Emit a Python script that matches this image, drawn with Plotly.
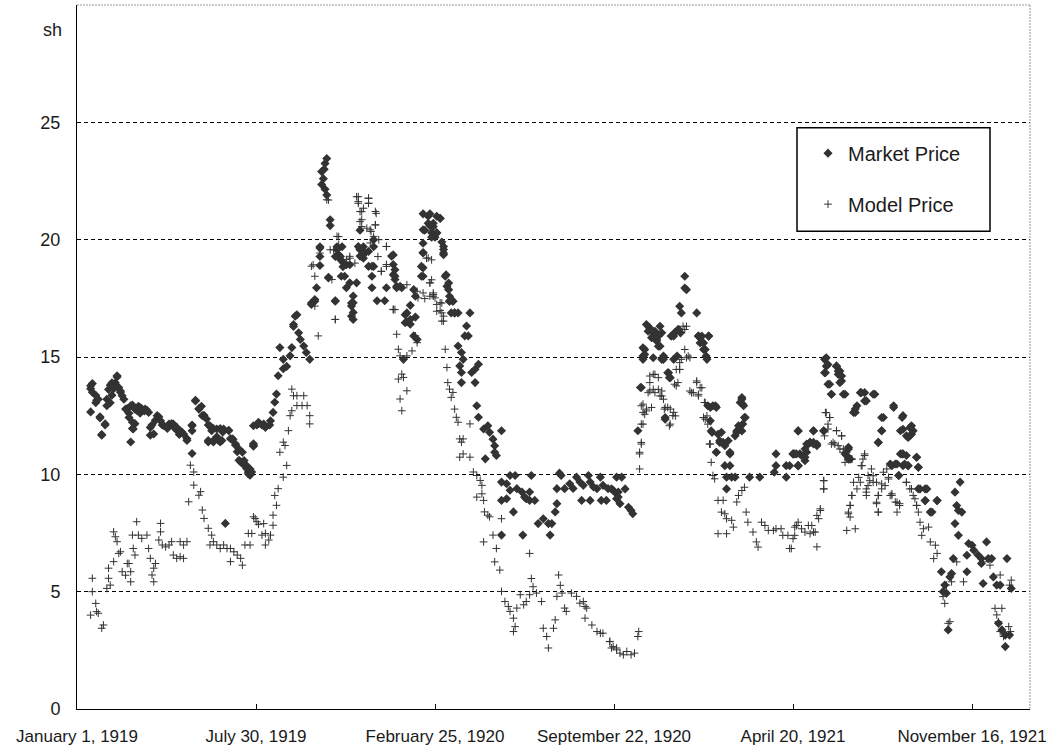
import pandas as pd
import plotly.graph_objects as go

# ---- data (days since 1 Jan 1919, price in shillings) ----
market_day = [16, 16, 18, 22, 23, 27, 29, 33, 35, 39, 41, 43, 45, 47, 49, 51, 55, 59, 61, 63, 65, 65, 68, 70, 72, 74, 76, 79, 82, 86, 88, 92, 96, 100, 106, 111, 114, 117, 120, 123, 129, 135, 135, 139, 143, 146, 149, 154, 154, 157, 160, 160, 164, 168, 168, 171, 174, 178, 180, 183, 186, 188, 190, 192, 196, 199, 201, 203, 207, 213, 219,
              16, 18, 22, 25, 27, 33, 29, 37, 41, 45, 47, 51, 53, 39, 35, 57, 63, 68, 74, 80, 84, 61, 65, 66, 94, 98, 102, 108, 113, 117, 121, 125, 129, 86, 90,
              135, 135, 139, 143, 147, 152, 156, 158, 164, 172, 178, 182, 186, 190, 194, 196, 199, 203, 201, 207, 213, 219, 227, 154, 160, 166, 170, 207,
              205, 207, 211, 217, 221, 226, 230, 232, 234, 236, 242, 246, 242, 250, 238, 252, 254, 258, 260, 262, 266, 269, 273, 275, 279, 281, 285, 285, 290, 293, 291, 287, 289, 287, 291, 293, 295, 297, 297, 303, 305, 307, 309, 311, 312, 314, 310, 316, 320, 324, 322, 324, 324, 328, 332, 332, 332, 336, 338, 342, 346, 346, 346, 348, 348, 352, 361, 363, 369, 371, 371, 373, 375, 381, 383, 385, 387, 391, 391, 395, 397, 399, 406, 408, 406, 406, 406, 404, 412, 414, 416, 420, 422,
              285, 285, 305, 309, 313, 316, 320, 303, 332, 334, 336, 330, 342, 348, 371, 373, 373, 375, 379, 395, 397, 406, 412, 418, 426, 422, 406, 404, 406, 430, 430, 432, 434, 437, 441, 443, 387, 385, 391, 322, 322, 324, 303, 279, 275, 295, 256, 254,
              414, 418, 422, 426, 416, 428, 430, 430, 433, 436, 436, 437, 437, 441, 439, 443, 447, 461, 457, 459, 455, 447, 451, 453, 449, 451, 463, 467, 471, 467, 451, 469, 471, 477, 482, 484, 488, 490, 490, 492, 498, 479, 498, 504, 508, 514, 498, 504, 508, 516, 522, 525, 531, 533, 527, 531, 537, 512, 498, 523, 541, 547, 553, 557, 555, 561, 563, 566, 568, 563, 572, 578, 582, 586, 590, 594, 600, 602, 606, 610, 614, 617, 623, 629, 635, 592, 602, 615, 621, 633,
              627, 631, 635, 637, 643, 647, 650, 652, 633, 639, 658, 662, 664, 666, 668, 674, 676, 680, 682, 684, 686, 688, 693, 695, 690, 697, 701, 705, 707, 709, 713, 715, 713, 727, 729, 731, 735, 738, 733, 741, 740, 746, 750, 744, 752, 754, 760, 766, 750, 760, 766, 762, 768, 772, 762, 774, 776, 780, 781, 783, 781, 780, 789, 801, 820, 820, 818, 832, 832, 842, 846, 846,
              672, 670, 678, 682, 674, 680, 684, 664, 666, 664, 676, 686, 688, 700, 704, 700, 708, 706, 729, 731, 735, 737, 739, 741, 694, 696, 661, 690, 743, 749, 780, 782, 778, 784, 743, 745, 756, 754, 758, 764, 772, 774, 750, 766,
              836, 840, 846, 848, 852, 856, 854, 858, 860, 864, 868, 864, 876, 879, 881, 878, 891, 893, 897, 895, 881, 885, 901, 905, 901, 905, 919, 924, 926, 936, 913, 911, 946, 944, 940, 958, 969, 969, 973, 977, 979, 981, 966, 969, 973, 956, 960, 964, 969, 975, 985, 987, 989, 995, 995, 1009, 1001, 1036, 1030, 1032, 1034, 1038, 1030, 1034, 1046, 1050, 1052, 1057, 1061, 1067, 1044, 1061, 1028, 1044, 1069, 1073, 1091, 1014, 1024, 1026, 1018, 1016, 1020, 1022, 1063, 1075, 1079, 1083, 1096, 1081, 1085, 1089, 1094, 1089,
              846, 864, 876, 856, 860, 864, 868, 854, 840, 844, 850, 854, 846, 877, 879, 891, 895, 893, 897, 877, 883, 885, 899, 905, 903, 907, 920, 924, 915, 913, 934, 944, 944, 940, 958, 968, 966, 977, 979, 975, 954, 962, 968, 971, 975, 985, 987, 964, 987, 997, 995, 1009, 1003]
market_price = [13.65, 12.66, 13.87, 13.37, 13.16, 12.45, 11.67, 12.10, 13.20, 13.80, 13.37, 13.65, 13.90, 14.15, 13.70, 13.50, 13.20, 12.80, 12.60, 11.38, 12.95, 11.95, 12.16, 12.73, 12.90, 12.60, 12.80, 12.70, 12.73, 11.67, 12.10, 12.30, 12.45, 12.10, 11.95, 12.16, 12.00, 11.88, 11.70, 11.80, 11.52, 12.10, 10.89, 13.16, 12.80, 12.90, 12.52, 12.10, 11.38, 12.00, 11.95, 11.38, 11.60, 11.38, 11.95, 11.80, 7.91, 11.88, 11.52, 11.50, 11.24, 10.96, 10.60, 10.53, 10.39, 10.25, 10.10, 9.96, 11.24, 12.16, 12.10,
                13.77, 13.50, 13.05, 13.20, 12.40, 12.15, 11.70, 13.62, 13.90, 13.75, 14.20, 13.55, 13.35, 13.05, 12.92, 12.78, 12.92, 12.78, 12.85, 12.78, 12.64, 12.42, 12.22, 11.93, 12.50, 12.28, 12.07, 12.14, 12.14, 12.00, 11.86, 11.72, 11.44, 12.00, 11.72,
                12.07, 11.86, 13.13, 12.78, 12.50, 12.36, 12.07, 11.86, 11.93, 11.93, 11.86, 11.50, 11.29, 11.08, 10.94, 10.59, 10.37, 10.23, 10.02, 12.07, 12.22, 12.14, 12.28, 11.44, 11.44, 11.44, 11.44, 11.30,
                10.10, 11.20, 12.10, 12.10, 12.00, 12.10, 12.64, 13.07, 13.42, 14.20, 14.50, 14.60, 14.90, 15.05, 15.40, 15.40, 16.30, 16.80, 16.03, 15.75, 15.47, 15.19, 14.90, 17.30, 17.45, 17.95, 18.90, 19.70, 23.00, 23.46, 23.25, 22.90, 22.60, 22.35, 22.15, 21.90, 18.40, 20.85, 20.60, 17.40, 19.70, 19.36, 19.15, 19.70, 18.85, 18.44, 18.44, 17.95, 18.16, 17.60, 17.30, 16.90, 16.60, 18.16, 19.30, 19.60, 20.40, 19.70, 19.43, 19.50, 18.87, 18.44, 17.95, 19.70, 20.00, 17.40, 17.40, 17.95, 19.30, 18.94, 18.51, 18.30, 17.95, 17.95, 14.90, 16.80, 16.50, 17.20, 16.40, 15.90, 16.70, 15.75, 21.10, 20.40, 19.85, 19.45, 18.80, 18.44, 20.70, 20.60, 20.30, 20.10, 21.00,
                19.64, 19.28, 19.57, 19.28, 19.00, 18.93, 18.93, 19.28, 19.57, 19.28, 19.21, 19.71, 18.86, 18.86, 19.35, 18.72, 18.44, 18.01, 18.01, 17.87, 17.59, 20.42, 21.00, 20.56, 20.91, 20.28, 19.43, 18.86, 18.44, 19.71, 19.43, 18.44, 18.01, 17.38, 17.38, 16.88, 16.88, 16.46, 16.60, 17.17, 16.74, 17.31, 17.38, 17.38, 17.24, 18.37, 16.74, 16.38,
                21.10, 20.70, 20.30, 20.90, 20.10, 19.90, 19.58, 19.36, 18.50, 18.15, 17.87, 17.59, 17.38, 17.38, 16.88, 16.88, 16.88, 16.88, 16.32, 15.90, 15.90, 15.47, 15.19, 14.90, 14.62, 14.34, 14.34, 14.48, 14.69, 13.91, 13.91, 12.92, 12.43, 11.93, 12.07, 11.79, 11.50, 11.22, 10.94, 10.80, 11.86, 10.66, 9.67, 9.60, 9.95, 9.95, 8.89, 8.96, 9.32, 9.39, 9.25, 9.03, 9.25, 9.95, 8.96, 8.89, 8.89, 8.40, 7.41, 7.41, 7.90, 8.11, 7.90, 7.90, 7.41, 8.40, 8.75, 10.05, 9.95, 9.39, 9.39, 9.60, 9.40, 9.88, 9.67, 9.53, 9.95, 9.67, 9.46, 9.39, 9.88, 9.53, 9.39, 9.32, 9.25, 8.89, 8.89, 8.89, 8.89, 8.96,
                9.38, 9.24, 9.03, 8.75, 9.38, 8.60, 8.46, 8.32, 9.88, 9.88, 11.86, 13.70, 15.04, 15.32, 16.38, 16.10, 15.89, 15.75, 15.46, 16.31, 16.03, 15.04, 14.33, 14.12, 12.42, 15.89, 16.03, 16.17, 17.16, 16.88, 17.94, 17.87, 18.44, 16.88, 15.89, 15.60, 15.32, 15.04, 15.89, 15.89, 12.92, 12.92, 12.85, 11.85, 11.71, 11.36, 11.22, 10.87, 10.94, 10.37, 10.37, 9.88, 9.88, 9.88, 9.38, 11.85, 12.07, 13.20, 12.99, 12.42, 12.14, 11.85, 9.88, 9.88, 10.87, 10.37, 10.09, 9.88, 10.37, 10.87, 10.37, 11.85,
                16.24, 16.10, 16.10, 15.89, 15.82, 15.68, 15.46, 15.39, 15.11, 14.90, 14.97, 14.90, 14.90, 14.90, 15.04, 15.89, 16.03, 16.17, 15.89, 15.82, 15.60, 15.32, 14.90, 15.89, 14.33, 14.12, 13.70, 12.35, 12.85, 12.92, 13.27, 12.92, 13.06, 12.42, 12.28, 11.79, 11.79, 11.43, 11.36, 11.43, 11.64, 11.79, 10.94, 10.94,
                10.37, 10.87, 10.37, 10.87, 10.80, 10.94, 10.58, 11.29, 11.36, 11.36, 11.29, 11.86, 11.86, 14.97, 14.68, 14.33, 14.61, 14.40, 14.19, 13.91, 13.84, 13.41, 13.41, 11.15, 10.87, 10.65, 13.48, 13.48, 13.13, 13.41, 12.78, 12.64, 12.42, 11.86, 11.36, 12.92, 12.50, 11.92, 11.64, 11.64, 12.07, 11.86, 10.87, 10.87, 10.80, 10.37, 10.44, 9.95, 10.37, 10.37, 10.73, 10.30, 9.38, 9.38, 8.88, 8.88, 8.39, 9.67, 9.24, 8.67, 8.46, 8.39, 7.90, 7.40, 7.05, 6.98, 6.77, 6.56, 6.41, 7.12, 6.55, 6.20, 6.41, 5.85, 6.41, 6.41, 6.41, 5.85, 5.63, 5.77, 5.28, 5.00, 4.93, 3.37, 5.35, 5.63, 5.28, 5.28, 5.14, 3.65, 3.37, 3.15, 3.15, 2.66,
                11.85, 11.85, 11.85, 11.29, 11.36, 11.29, 11.22, 11.08, 10.87, 10.87, 10.80, 10.73, 10.37, 14.90, 14.61, 14.61, 14.40, 14.26, 13.98, 14.33, 13.84, 13.41, 13.41, 11.08, 10.80, 10.65, 13.48, 13.13, 12.92, 12.64, 13.41, 12.42, 11.86, 11.36, 12.85, 12.42, 11.86, 11.99, 11.71, 11.57, 10.44, 10.44, 10.87, 10.44, 10.37, 10.73, 10.30, 9.95, 9.38, 9.38, 8.88, 8.88, 8.39]

model_day = [16, 18, 18, 22, 23, 25, 29, 31, 35, 37, 37, 39, 43, 43, 45, 47, 49, 51, 53, 57, 59, 61, 63, 63, 65, 66, 68, 70, 72, 76, 82, 84, 86, 88, 90, 90, 92, 96, 98, 98, 100, 104, 108, 111, 113, 117, 121, 121, 125, 125, 129, 131, 133, 137, 137, 143, 145, 147, 149, 154, 156, 158, 160, 164, 168, 172, 176, 180, 180, 184, 188, 192, 194, 197, 201, 203, 207, 211, 217, 221,
             205, 209, 213, 219, 221, 225, 227, 230, 230, 234, 232, 236, 238, 242, 242, 244, 246, 248, 250, 252, 252, 254, 258, 266, 258, 264, 270, 273, 273, 275, 279, 279, 283, 285, 293, 299, 301, 303, 305, 307, 316, 320, 328, 330, 332, 334, 336, 340, 342, 342, 344, 345, 348, 350, 350, 354, 357, 363, 363, 371, 375, 377, 379, 377, 381, 383, 387, 387, 379, 381, 393, 397, 399, 400, 406, 408, 412, 414, 418, 422,
             295, 330, 342, 342, 330, 334, 332, 334, 344, 351, 350, 307, 297, 277, 320, 326, 353, 363, 357, 363, 387, 399, 410, 416, 420, 426, 418, 414, 430, 428, 371, 373, 303,
             414, 416, 418, 422, 426, 428, 428, 430, 432, 434, 435, 437, 439, 441, 443, 445, 447, 449, 451, 453, 449, 453, 461, 461, 465, 469, 473, 475, 469, 475, 477, 478, 482, 484, 498, 477, 488, 492, 490, 496, 498, 502, 506, 508, 512, 514, 512, 516, 520, 524, 527, 531, 531, 533, 535, 539, 545, 547, 551, 553, 559, 561, 565, 563, 567, 569, 572, 574, 580, 586, 590, 594, 598, 596, 596, 604, 610, 614, 617, 625, 627, 633,
             625, 629, 633, 637, 641, 645, 650, 654, 658, 659, 660, 660, 662, 664, 666, 662, 668, 672, 676, 682, 686, 689, 670, 678, 684, 688, 695, 699, 693, 701, 703, 707, 709, 713, 715, 719, 721, 727, 729, 733, 736, 735, 740, 742, 744, 746, 748, 752, 758, 756, 760, 762, 768, 770, 752, 762, 774, 776, 780, 783, 785, 787, 793, 797, 799, 803, 807, 811, 817, 820, 826, 828, 834, 838, 842, 844,
             672, 678, 672, 676, 682, 686, 664, 668, 664, 674, 690, 696, 700, 702, 696, 662, 662, 660, 705, 703, 707, 707, 715, 717, 713, 711, 719, 723, 727, 731, 729, 737, 739, 737, 735, 743,
             836, 840, 842, 846, 850, 854, 860, 864, 858, 862, 866, 868, 872, 870, 876, 876, 879, 883, 881, 877, 885, 889, 891, 897, 895, 899, 901, 909, 911, 915, 920, 924, 928, 932, 905, 907, 909, 903, 913, 907, 926, 928, 940, 938, 940, 934, 944, 946, 952, 954, 956, 960, 962, 965, 973, 979, 983, 985, 987, 989, 993, 991, 999, 1001, 1007, 1005, 1009, 1016, 1018, 1020, 1024, 1022, 1026, 1032, 1040, 1063, 1071, 1083, 1096, 1094, 1077, 1085, 1079, 1081, 1093, 1083, 1087, 1095,
             878, 883, 881, 891, 897, 887, 893, 899, 903, 909, 924, 922, 921, 917, 919, 909, 926, 926, 930, 934, 938, 940, 944, 948, 952, 950, 938, 940, 956, 962, 965, 973, 977, 981, 985, 876, 876, 907, 905, 872, 868]
model_price = [4.00, 5.57, 5.00, 4.50, 4.15, 4.08, 3.44, 3.58, 5.14, 5.57, 6.00, 5.28, 7.55, 6.28, 7.34, 7.13, 6.63, 6.70, 5.85, 5.70, 6.20, 6.20, 5.85, 5.42, 7.41, 6.84, 6.56, 7.98, 7.41, 7.27, 7.41, 6.84, 6.42, 5.71, 6.00, 5.42, 6.20, 7.20, 7.91, 7.55, 6.99, 6.91, 6.99, 7.13, 6.56, 6.42, 6.49, 7.13, 6.99, 6.42, 7.13, 8.83, 10.39, 10.10, 9.54, 9.11, 9.26, 8.48, 8.12, 7.70, 6.99, 7.41, 7.13, 6.99, 6.84, 6.99, 6.84, 6.84, 6.28, 6.70, 6.56, 6.42, 6.13, 6.99, 7.48, 6.99, 8.19, 7.98, 7.41, 6.99,
               7.48, 8.12, 7.87, 7.90, 7.48, 7.20, 7.41, 7.83, 8.26, 8.68, 9.10, 9.39, 10.94, 9.88, 11.37, 11.23, 10.38, 11.86, 12.50, 12.71, 13.63, 13.35, 13.35, 13.35, 12.93, 12.93, 12.93, 12.50, 12.15, 18.87, 18.44, 17.17, 15.90, 19.43, 21.70, 18.30, 19.57, 16.60, 20.14, 19.78, 19.15, 19.29, 21.83, 21.62, 21.20, 20.85, 21.34, 20.49, 21.77, 21.55, 19.86, 20.35, 20.14, 21.20, 20.63, 20.00, 18.65, 19.71, 18.94, 17.03, 15.97, 15.33, 15.05, 14.06, 14.27, 14.13, 15.05, 13.56, 13.21, 12.71, 15.26, 15.90, 15.61, 17.52, 17.73, 17.49, 19.22, 18.16, 17.59, 16.95,
               21.69, 21.83, 21.76, 21.55, 21.55, 21.19, 20.77, 20.56, 20.42, 21.12, 20.63, 20.13, 19.57, 18.93, 19.21, 19.00, 19.28, 19.71, 18.65, 18.86, 18.08, 17.80, 19.21, 18.29, 17.52, 17.31, 17.73, 17.59, 16.74, 16.53, 17.02, 17.02, 16.60,
               18.16, 19.14, 17.66, 17.24, 16.98, 16.88, 17.30, 16.53, 15.33, 14.55, 13.91, 13.63, 13.28, 13.49, 12.78, 12.43, 12.22, 11.51, 11.37, 11.51, 10.73, 10.87, 12.15, 10.73, 10.10, 9.95, 9.74, 9.53, 9.03, 9.17, 8.89, 8.40, 8.26, 8.19, 8.11, 7.12, 7.41, 6.84, 6.27, 5.92, 5.01, 4.58, 4.37, 4.16, 3.87, 3.51, 3.30, 4.30, 4.87, 4.44, 4.58, 4.87, 6.63, 5.56, 5.21, 4.94, 4.58, 3.44, 3.09, 2.60, 3.44, 3.80, 5.71, 4.80, 5.27, 4.94, 4.30, 4.16, 4.94, 4.80, 4.51, 4.58, 4.30, 4.37, 3.87, 3.58, 3.30, 3.23, 3.23, 2.88, 2.60, 2.60,
               2.87, 2.66, 2.52, 2.38, 2.31, 2.45, 2.31, 2.38, 3.09, 3.30, 10.23, 10.87, 11.29, 12.14, 12.56, 12.92, 12.70, 13.55, 14.26, 14.12, 13.55, 12.78, 13.48, 13.48, 13.34, 13.20, 12.07, 12.50, 12.85, 13.84, 14.47, 14.47, 14.90, 15.32, 16.31, 14.97, 13.48, 13.91, 13.41, 13.69, 13.06, 12.42, 12.14, 11.29, 10.51, 9.95, 9.81, 8.89, 8.89, 8.39, 8.32, 8.11, 8.04, 7.75, 7.47, 7.47, 8.82, 9.10, 9.31, 9.45, 8.39, 7.96, 7.54, 7.12, 6.90, 7.96, 7.82, 7.61, 7.61, 7.68, 7.68, 7.40, 7.40, 6.84, 7.40, 7.82,
               14.19, 14.26, 13.91, 13.62, 13.62, 13.34, 12.99, 12.78, 12.64, 12.85, 12.85, 12.78, 12.64, 12.49, 12.14, 12.14, 11.36, 10.94, 13.91, 13.77, 14.47, 14.76, 14.97, 15.04, 16.17, 16.31, 13.55, 13.48, 13.98, 13.69, 13.34, 13.06, 12.49, 12.35, 12.42, 11.29,
               6.84, 7.26, 7.75, 7.96, 7.68, 7.54, 7.47, 7.54, 7.82, 7.82, 7.54, 6.91, 8.46, 8.11, 9.73, 9.38, 12.63, 12.42, 11.93, 11.64, 11.29, 11.29, 11.86, 11.64, 11.08, 10.94, 10.51, 10.65, 9.66, 9.38, 10.37, 10.80, 9.95, 10.23, 8.39, 8.68, 9.10, 7.61, 7.68, 8.18, 9.24, 9.52, 9.10, 8.75, 8.39, 9.66, 9.59, 10.09, 9.80, 9.10, 9.17, 8.82, 8.39, 8.75, 9.66, 9.38, 8.96, 8.68, 8.39, 7.96, 7.68, 7.40, 7.75, 7.12, 6.98, 6.41, 6.63, 4.79, 4.50, 5.28, 3.72, 3.65, 5.42, 6.27, 5.42, 6.27, 6.13, 5.71, 5.49, 5.28, 4.29, 4.29, 4.01, 3.72, 3.51, 3.30, 3.09, 3.30,
               12.63, 12.42, 12.14, 11.86, 11.64, 11.36, 11.22, 11.08, 10.94, 10.65, 10.87, 10.65, 10.37, 9.87, 9.66, 9.10, 9.38, 9.10, 9.73, 9.94, 9.66, 9.10, 9.38, 9.52, 9.87, 10.23, 8.81, 8.39, 9.10, 8.81, 8.67, 9.66, 9.38, 9.10, 8.67, 9.73, 9.38, 8.67, 8.32, 8.53, 8.25]

tick_dates = ["1919-01-01", "1919-07-30", "1920-02-25", "1920-09-22", "1921-04-20", "1921-11-16"]
tick_labels = ["January 1, 1919", "July 30, 1919", "February 25, 1920",
               "September 22, 1920", "April 20, 1921", "November 16, 1921"]
y_ticks = [0, 5, 10, 15, 20, 25]

start = pd.Timestamp("1919-01-01")
market_x = start + pd.to_timedelta(market_day, unit="D")
model_x = start + pd.to_timedelta(model_day, unit="D")

FONT = "Liberation Sans, Arial, sans-serif"
INK = "#333333"

fig = go.Figure()
fig.add_trace(go.Scatter(
    x=market_x, y=market_price, mode="markers", name="Market Price",
    legendgroup="a",
    marker=dict(symbol="diamond", size=7, color=INK, line=dict(width=0))))
fig.add_trace(go.Scatter(
    x=model_x, y=model_price, mode="markers", name="Model Price",
    legendgroup="b",
    marker=dict(symbol="cross-thin", size=5.5, color=INK, line=dict(width=1, color=INK))))

W, H = 1054, 751
L, R, T, B = 77, 24, 5, 40
pw, ph = W - L - R, H - T - B

def px(x):
    return (x - L) / pw

def py(y):
    return (H - B - y) / ph

fig.update_layout(
    width=W, height=H, autosize=False,
    margin=dict(l=L, r=R, t=T, b=B),
    paper_bgcolor="white", plot_bgcolor="white",
    font=dict(family=FONT, size=17, color="#1a1a1a"),
    showlegend=True,
    legend=dict(x=px(808), y=py(134), xanchor="left", yanchor="top",
                font=dict(size=20, family=FONT, color="#1a1a1a"),
                bgcolor="rgba(0,0,0,0)", borderwidth=0,
                traceorder="grouped", tracegroupgap=22),
    xaxis=dict(type="date", range=["1919-01-01", "1922-01-23"],
               tickvals=tick_dates, ticktext=tick_labels,
               showgrid=False, zeroline=False,
               showline=True, linecolor="black", linewidth=1,
               ticks="inside", ticklen=5, tickcolor="black",
               tickfont=dict(size=17), ticklabelstandoff=12),
    yaxis=dict(range=[0, 30], tickvals=y_ticks,
               showgrid=True, gridcolor="black", gridwidth=1, griddash="4px,3px",
               zeroline=False, showline=True, linecolor="black", linewidth=1,
               ticks="", tickfont=dict(size=18), ticklabelstandoff=12),
    shapes=[
        dict(type="line", xref="paper", yref="paper", x0=0, x1=1, y0=1, y1=1,
             line=dict(color="#999999", width=1, dash="2px,1px")),
        dict(type="line", xref="paper", yref="paper", x0=1, x1=1, y0=0, y1=1,
             line=dict(color="#999999", width=1, dash="2px,1px")),
        dict(type="rect", xref="paper", yref="paper",
             x0=px(797), x1=px(990), y0=py(232), y1=py(128),
             line=dict(color="black", width=1.5), fillcolor="rgba(0,0,0,0)"),
    ],
    annotations=[dict(text="sh", xref="paper", yref="paper",
                      x=px(64), y=py(30), xanchor="right", yanchor="middle",
                      showarrow=False, font=dict(size=18, family=FONT))],
)

fig.write_html("out.html", config={"displayModeBar": False},
               post_script="document.body.style.margin='0';")
